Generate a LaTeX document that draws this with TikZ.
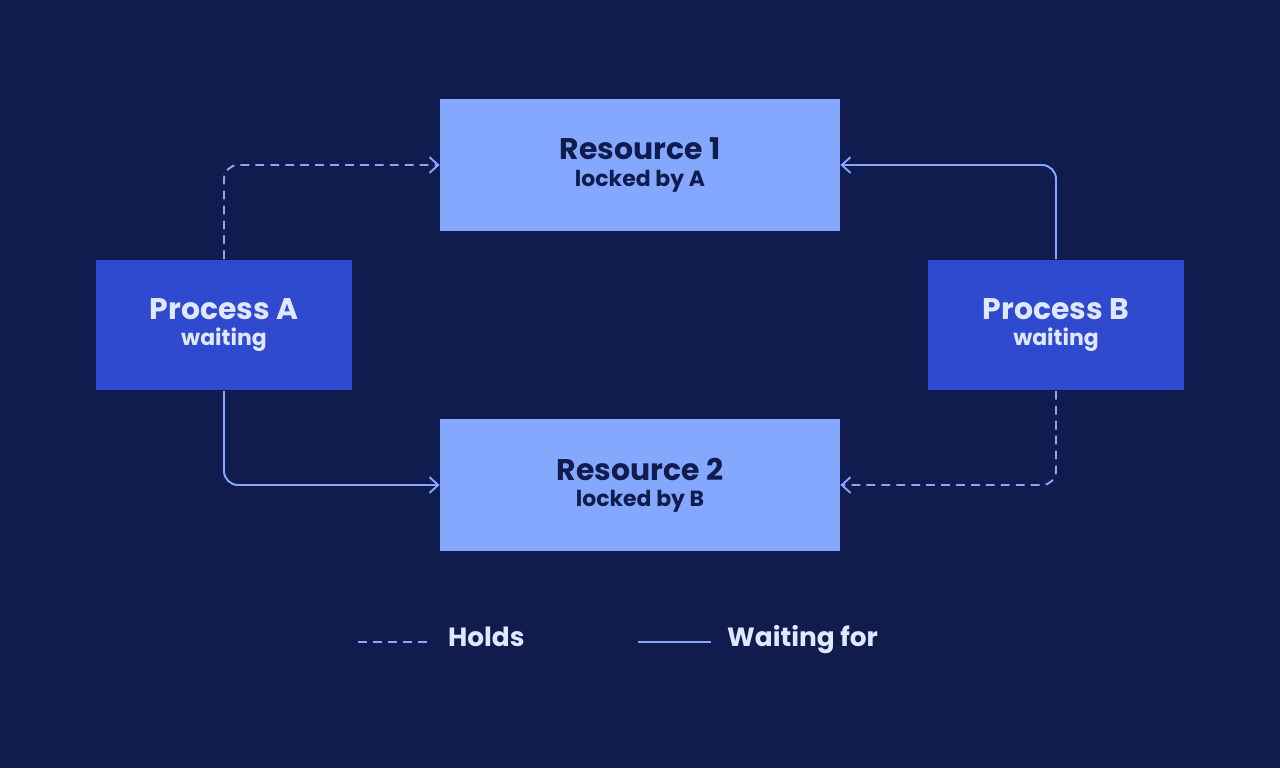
\documentclass[tikz,border=0pt]{standalone}
\usepackage{fontspec}
\setmainfont{Poppins}
\usetikzlibrary{arrows.meta, positioning}
\definecolor{bgnavy}{HTML}{101B4E}
\definecolor{reslight}{HTML}{85A8FF}
\definecolor{procblue}{HTML}{2F49CF}
\definecolor{proctext}{HTML}{E0E8FF}
\newcommand{\boxtitle}[2]{{\fontsize{17}{20}\selectfont\bfseries #1}\\[3pt]{\fontsize{12.5}{14}\selectfont\bfseries #2}}
\begin{document}
\begin{tikzpicture}[x=0.02cm, y=-0.02cm,
    resource/.style={rectangle, fill=reslight, text=bgnavy, minimum width=8cm, minimum height=2.64cm, align=center},
    process/.style={rectangle, fill=procblue, text=proctext, minimum width=5.12cm, minimum height=2.62cm, align=center},
    link/.style={draw=reslight, line width=1.1pt, rounded corners=8pt, -{Straight Barb[length=5pt, width=9pt]}},
    holds/.style={link, dash pattern=on 5pt off 3.5pt}]
    \fill[bgnavy] (0,0) rectangle (1280,768);
    \node[resource] (res1) at (640,165) {\boxtitle{Resource 1}{locked by A}};
    \node[resource] (res2) at (640,485) {\boxtitle{Resource 2}{locked by B}};
    \node[process] (procA) at (224,325) {\boxtitle{Process A}{waiting}};
    \node[process] (procB) at (1056,325) {\boxtitle{Process B}{waiting}};
    \draw[holds] (procA.north) |- (res1.west);
    \draw[link] (procB.north) |- (res1.east);
    \draw[link] (procA.south) |- (res2.west);
    \draw[holds] (procB.south) |- (res2.east);
    % legend
    \coordinate (holdsL) at (358,642);
    \coordinate (holdsR) at (432,642);
    \coordinate (waitL) at (638,642);
    \coordinate (waitR) at (711,642);
    \draw[reslight, line width=1.1pt, dash pattern=on 5pt off 3.5pt] (holdsL) -- (holdsR);
    \draw[reslight, line width=1.1pt] (waitL) -- (waitR);
    \node[right=9pt of holdsR, anchor=mid west, text=proctext, font=\fontsize{15}{17}\selectfont\bfseries, inner sep=0pt] (holdsT) {Holds};
    \node[right=9pt of waitR, anchor=mid west, text=proctext, font=\fontsize{15}{17}\selectfont\bfseries, inner sep=0pt] (waitT) {Waiting for};
\end{tikzpicture}
\end{document}
